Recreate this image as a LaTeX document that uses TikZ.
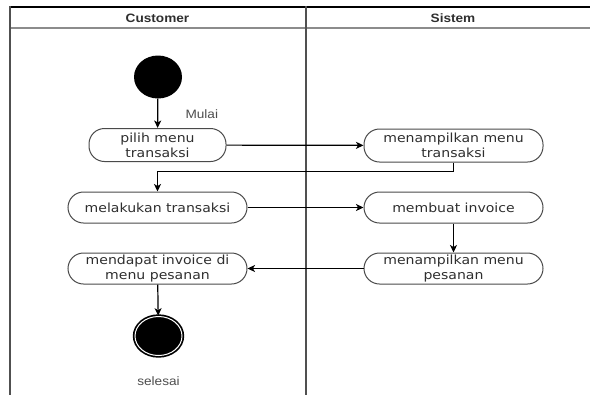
\documentclass[tikz,border=0pt]{standalone}
\usepackage{fontspec}
\setmainfont{DejaVu Sans}[FakeStretch=1.12]
\newfontfamily\labelfont{Liberation Sans}[FakeStretch=1.12]
\usetikzlibrary{arrows.meta,shapes.geometric}
\definecolor{txt}{HTML}{2E2E2E}
\definecolor{edge}{HTML}{4A4A4A}
\definecolor{lane}{HTML}{505050}
\tikzset{
  act/.style={draw=edge, line width=1bp, rounded corners=15.5bp, minimum width=179bp,
    minimum height=31bp, inner sep=0pt, align=center, text=txt,
    font=\fontsize{12.6}{15}\selectfont},
  flow/.style={draw=black, line width=1.2bp, -{Stealth[length=7.5bp,width=7bp,inset=2bp]}},
  lanehead/.style={text=txt, font=\labelfont\bfseries\fontsize{12.2}{14}\selectfont},
  note/.style={text=txt!85!white, font=\labelfont\fontsize{12.2}{14}\selectfont},
}
\begin{document}
\begin{tikzpicture}[x=1bp,y=-1bp]
\useasboundingbox (0,0) rectangle (590,394);
\clip (0,0) rectangle (590,394);

% swimlane frame
\draw[black, line width=1.3bp] (10,7) -- (592,7);
\draw[gray!90, line width=1.8bp] (10,28) -- (592,28);
\draw[lane, line width=2bp] (10,6.4) -- (10,396);
\draw[lane, line width=2bp] (305.5,6.4) -- (305.5,396);
\node[lanehead] (hcust) at (157.5,18) {Customer};
\node[lanehead] (hsys) at (453,18) {Sistem};

% start and end states
\node[ellipse, fill=black, minimum width=48bp, minimum height=43bp, inner sep=0pt] (start) at (158,77) {};
\node[ellipse, fill=black, draw=black, line width=1.7bp, double=white, double distance=1bp,
  minimum width=47bp, minimum height=39bp, inner sep=0pt] (stop) at (158.5,336) {};
\node[note, anchor=west] (mulai) at (182,114) {Mulai};
\node[note] (selesai) at (158.5,381) {selesai};

% activities
\node[act, minimum width=137bp, minimum height=33bp] (pilih) at (157.5,145) {pilih menu\\transaksi};
\node[act, minimum height=33bp] (tampiltrans) at (453.5,145.5) {menampilkan menu\\transaksi};
\node[act] (lakukan) at (157.5,207.5) {melakukan transaksi};
\node[act] (invoice) at (453.5,207.5) {membuat invoice};
\node[act] (tampilpesan) at (453.5,268.5) {menampilkan menu\\pesanan};
\node[act] (dapat) at (157.5,268.5) {mendapat invoice di\\menu pesanan};

% control flow
\draw[flow] (start) -- (pilih);
\draw[flow] (pilih) -- (tampiltrans);
\draw[flow] (tampiltrans.south) -- ++(0,9) -| (lakukan.north);
\draw[flow] (lakukan) -- (invoice);
\draw[flow] (invoice) -- (tampilpesan);
\draw[flow] (tampilpesan) -- (dapat);
\draw[flow] (dapat) -- (stop);
\end{tikzpicture}
\end{document}
